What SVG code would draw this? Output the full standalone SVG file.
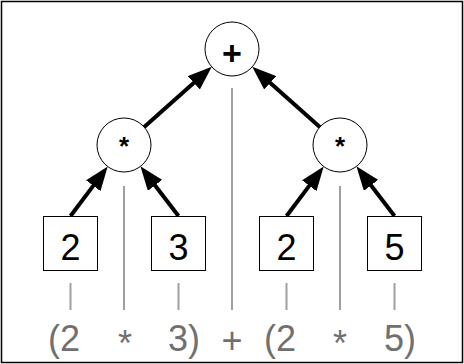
<svg xmlns="http://www.w3.org/2000/svg" width="464" height="364" viewBox="0 0 464 364">
  <defs>
    <marker id="arr" markerUnits="userSpaceOnUse" markerWidth="24" markerHeight="18" refX="14" refY="9" orient="auto">
      <path d="M0,0 L24,9 L0,18 z" fill="#000"/>
    </marker>
    <style>
      .node circle, .node rect { fill: #fff; stroke: #000; stroke-width: 1; }
      .op { font-family: "Liberation Sans", Arial, sans-serif; font-weight: bold; fill: #000; text-anchor: middle; }
      .num { font-family: "Liberation Sans", Arial, sans-serif; font-size: 36px; fill: #000; text-anchor: middle; }
      .expr { font-family: "Liberation Sans", Arial, sans-serif; font-size: 36px; fill: #707070; }
      .guide { stroke: #a0a0a0; stroke-width: 2; fill: none; }
      .edge { stroke: #000; stroke-width: 4; fill: none; marker-end: url(#arr); }
    </style>
  </defs>
  <rect x="1.5" y="1.5" width="461" height="361" fill="#fff" stroke="#000" stroke-width="1.5"/>

  <g id="guides">
    <line class="guide" x1="232" y1="88" x2="232" y2="310"/>
    <line class="guide" x1="124" y1="186" x2="124" y2="310"/>
    <line class="guide" x1="340" y1="186" x2="340" y2="310"/>
    <line class="guide" x1="70.5" y1="283" x2="70.5" y2="310"/>
    <line class="guide" x1="178.5" y1="283" x2="178.5" y2="310"/>
    <line class="guide" x1="286.5" y1="283" x2="286.5" y2="310"/>
    <line class="guide" x1="394.5" y1="283" x2="394.5" y2="310"/>
  </g>

  <g id="connectors">
    <line class="edge" x1="70.5" y1="216" x2="101.7" y2="174.6"/>
    <line class="edge" x1="178.5" y1="216" x2="146.5" y2="174.3"/>
    <line class="edge" x1="286.5" y1="216" x2="317.7" y2="174.6"/>
    <line class="edge" x1="394.5" y1="216" x2="362.5" y2="174.3"/>
    <line class="edge" x1="144.2" y1="127.1" x2="204.3" y2="73.5"/>
    <line class="edge" x1="319.8" y1="127.1" x2="259.7" y2="73.5"/>
  </g>

  <g id="plus" class="node">
    <circle cx="232" cy="49" r="27"/>
    <text class="op" x="232" y="65" font-size="34">+</text>
  </g>
  <g id="mul-left" class="node">
    <circle cx="124" cy="145" r="27"/>
    <text class="op" x="124" y="155" font-size="26">*</text>
  </g>
  <g id="mul-right" class="node">
    <circle cx="340" cy="145" r="27"/>
    <text class="op" x="340" y="155" font-size="26">*</text>
  </g>
  <g id="num-2a" class="node">
    <rect x="43.5" y="216.5" width="54" height="54"/>
    <text class="num" x="70.5" y="260">2</text>
  </g>
  <g id="num-3" class="node">
    <rect x="151.5" y="216.5" width="54" height="54"/>
    <text class="num" x="178.5" y="260">3</text>
  </g>
  <g id="num-2b" class="node">
    <rect x="259.5" y="216.5" width="54" height="54"/>
    <text class="num" x="286.5" y="260">2</text>
  </g>
  <g id="num-5" class="node">
    <rect x="367.5" y="216.5" width="54" height="54"/>
    <text class="num" x="394.5" y="260">5</text>
  </g>

  <g id="expression">
    <text class="expr" x="80" y="351" text-anchor="end">(2</text>
    <text class="expr" x="125" y="356" text-anchor="middle">*</text>
    <text class="expr" x="168" y="351">3)</text>
    <text class="expr" x="232" y="353" text-anchor="middle">+</text>
    <text class="expr" x="296" y="351" text-anchor="end">(2</text>
    <text class="expr" x="340" y="356" text-anchor="middle">*</text>
    <text class="expr" x="384" y="351">5)</text>
  </g>
</svg>
